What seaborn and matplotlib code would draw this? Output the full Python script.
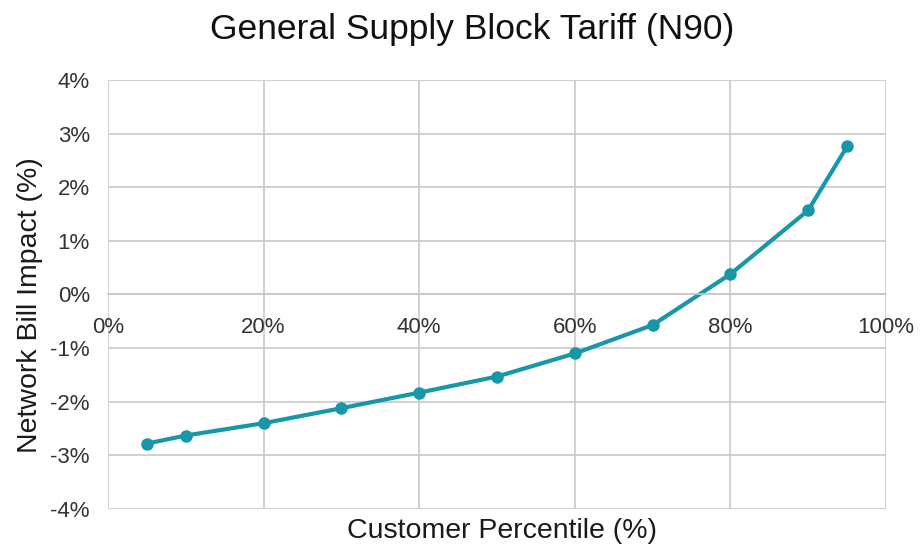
import matplotlib
matplotlib.use("Agg")
import matplotlib.pyplot as plt
import seaborn as sns
import pandas as pd
from matplotlib.ticker import FuncFormatter

percentile = [5, 10, 20, 30, 40, 50, 60, 70, 80, 90, 95]
impact = [-2.78, -2.63, -2.40, -2.12, -1.83, -1.53, -1.10, -0.57, 0.38, 1.57, 2.76]
title = "General Supply Block Tariff (N90)"
xlabel = "Customer Percentile (%)"
ylabel = "Network Bill Impact (%)"

sns.set_theme(style="white")
plt.rcParams['font.family'] = ['Liberation Sans', 'DejaVu Sans']

df = pd.DataFrame({"x": percentile, "y": impact})

fig = plt.figure(figsize=(9.24, 5.5), dpi=100)
ax = fig.add_axes([108/924, 1-509/550, (886-108)/924, (509-80)/550])

color = "#1897a9"
sns.lineplot(data=df, x="x", y="y", ax=ax, color=color, linewidth=3,
             marker="o", markersize=9, markeredgewidth=0, markeredgecolor=color)

ax.set_xlim(0, 100)
ax.set_ylim(-4, 4)
ax.set_xticks(range(0, 101, 20))
ax.set_yticks(range(-4, 5))
ax.xaxis.set_major_formatter(FuncFormatter(lambda v, p: f"{int(v)}%"))
ax.yaxis.set_major_formatter(FuncFormatter(lambda v, p: f"{int(v)}%"))
ax.grid(True, color="#c8c8c8", linewidth=1.2)
ax.set_axisbelow(True)
for s in ["top", "right", "left"]:
    ax.spines[s].set_visible(False)
ax.spines["bottom"].set_position(("data", 0))
ax.spines["bottom"].set_color("#c8c8c8")
ax.spines["bottom"].set_linewidth(1.2)
ax.tick_params(axis="both", length=0, labelsize=16, labelcolor="#333333")
ax.tick_params(axis="x", pad=16)
ax.tick_params(axis="y", pad=13)

ax.set_xlabel("")
ax.set_ylabel("")
fig.text(502/924, 1-531/550, xlabel, ha="center", va="center", fontsize=20.5, color="#1a1a1a")
fig.text(30/924, 1-305/550, ylabel, ha="center", va="center", rotation=90, fontsize=20.5, color="#1a1a1a")
fig.text(472/924, 1-30/550, title, ha="center", va="center", fontsize=25.5, color="#111111")

fig.savefig("out.png", dpi=100)
